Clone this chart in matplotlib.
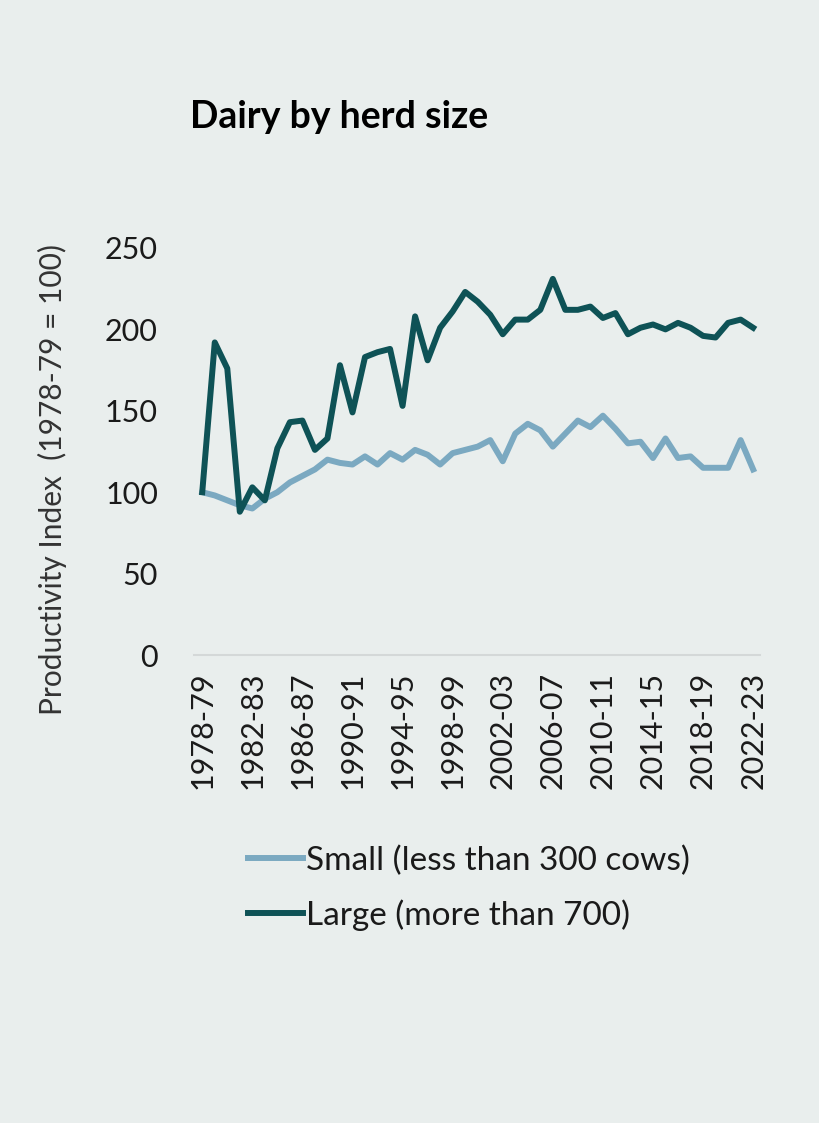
import matplotlib
matplotlib.use('Agg')
import matplotlib.pyplot as plt
import numpy as np

plt.rcParams['font.family'] = ['Lato', 'DejaVu Sans']

# financial years 1978-79 .. 2022-23
years = [f"{y}-{str(y + 1)[-2:]}" for y in range(1978, 2023)]

small = [100, 98, 95, 92, 90, 96, 100, 106, 110, 114, 120, 118, 117, 122, 117, 124,
         120, 126, 123, 117, 124, 126, 128, 132, 119, 136, 142, 138, 128, 136,
         144, 140, 147, 139, 130, 131, 121, 133, 121, 122, 115, 115, 115, 132, 114]

large = [100, 192, 176, 88, 103, 95, 127, 143, 144, 126, 133, 178, 149, 183, 186, 188,
         153, 208, 181, 201, 211, 223, 217, 209, 197, 206, 206, 212, 231, 212,
         212, 214, 207, 210, 197, 201, 203, 200, 204, 201, 196, 195, 204, 206, 201]

bg = '#e9eeed'
small_col = '#7ba9c1'
large_col = '#0e5256'

fig = plt.figure(figsize=(8.19, 11.23), dpi=100, facecolor=bg)
ax = fig.add_axes([0.237, 0.4167, 0.691, 0.3625], facecolor=bg)

x = np.arange(len(years))
ax.plot(x, small, color=small_col, lw=4.3, solid_joinstyle='round', label='Small (less than 300 cows)')
ax.plot(x, large, color=large_col, lw=4.3, solid_joinstyle='round', label='Large (more than 700)')

ax.set_xlim(-0.65, len(years) - 0.45)
ax.set_ylim(0, 250)
ax.set_yticks([0, 50, 100, 150, 200, 250])
ax.set_xticks(x[::4])
ax.set_xticklabels(years[::4], rotation=90)

for s in ['top', 'right', 'left']:
    ax.spines[s].set_visible(False)
ax.spines['bottom'].set_color('#d4d8d8')
ax.spines['bottom'].set_linewidth(1.5)
ax.tick_params(axis='both', length=0, labelsize=22, colors='#1a1a1a')
ax.tick_params(axis='y', pad=26)
ax.tick_params(axis='x', pad=12)

ax.set_ylabel('Productivity Index  (1978-79 = 100)', fontsize=21.5, color='#333333')
ax.yaxis.set_label_coords(-0.224, 0.43)

fig.text(0.232, 0.896, 'Dairy by herd size', fontsize=27, fontweight='bold', ha='left', va='center')

leg = fig.legend(loc='upper left', bbox_to_anchor=(0.303, 0.247), frameon=False, fontsize=24,
                 handlelength=1.65, handletextpad=0.1, borderpad=0, borderaxespad=0,
                 labelspacing=0.7)
for t in leg.get_texts():
    t.set_color('#1a1a1a')

fig.savefig('out.png', dpi=100, facecolor=bg)
